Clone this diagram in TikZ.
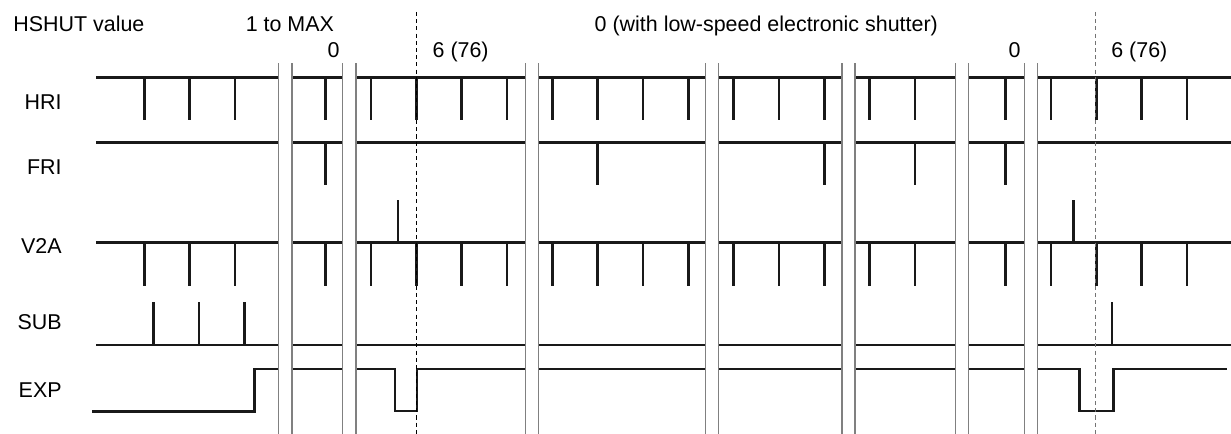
\documentclass[tikz,border=0pt]{standalone}
\usepackage{fontspec}
\setmainfont{Liberation Sans}
\begin{document}
\begin{tikzpicture}[scale=0.2]
    \tikzstyle{every node}+=[inner sep=0pt, font=\fontsize{12.2}{14}\selectfont]
    \tikzstyle{sig}=[black!90, line width=1.65pt]
    \tikzstyle{gapline}=[black!50, line width=0.75pt]
    \tikzstyle{tline}=[line width=0.6pt, dash pattern=on 2.3pt off 1.8pt]
    \useasboundingbox (0,0) rectangle (123.1,-43.4);
    % headings
    \draw (1.3,-3.17) node [anchor=base west] (hshut) {HSHUT value};
    \draw (33.43,-3.17) node [anchor=base east] (range) {1 to MAX};
    \draw (33.37,-5.73) node [anchor=base] (zeroa) {0};
    \draw (43.23,-5.73) node [anchor=base west] (sixa) {6 (76)};
    \draw (76.63,-3.17) node [anchor=base] (lowspeed) {0 (with low-speed electronic shutter)};
    \draw (101.45,-5.73) node [anchor=base] (zerob) {0};
    \draw (111.1,-5.73) node [anchor=base west] (sixb) {6 (76)};
    % signal names
    \draw (6.2,-11.0) node [anchor=base east] (hri) {HRI};
    \draw (6.2,-17.5) node [anchor=base east] (fri) {FRI};
    \draw (6.2,-25.4) node [anchor=base east] (v2a) {V2A};
    \draw (6.2,-33.0) node [anchor=base east] (sub) {SUB};
    \draw (6.2,-39.73) node [anchor=base east] (exp) {EXP};
    % HRI
    \draw [sig] (9.6,-7.75) -- (123.1,-7.75);
    \draw [sig] (14.43,-7.75) -- ++(0,-4.25) (18.97,-7.75) -- ++(0,-4.25) (23.5,-7.75) -- ++(0,-4.25)
        (32.57,-7.75) -- ++(0,-4.25) (37.1,-7.75) -- ++(0,-4.25) (41.63,-7.75) -- ++(0,-4.25)
        (46.17,-7.75) -- ++(0,-4.25) (50.7,-7.75) -- ++(0,-4.25) (55.23,-7.75) -- ++(0,-4.25)
        (59.77,-7.75) -- ++(0,-4.25) (64.3,-7.75) -- ++(0,-4.25) (68.83,-7.75) -- ++(0,-4.25)
        (73.37,-7.75) -- ++(0,-4.25) (77.9,-7.75) -- ++(0,-4.25) (82.43,-7.75) -- ++(0,-4.25)
        (86.97,-7.75) -- ++(0,-4.25) (91.5,-7.75) -- ++(0,-4.25) (100.57,-7.75) -- ++(0,-4.25)
        (105.1,-7.75) -- ++(0,-4.25) (109.63,-7.75) -- ++(0,-4.25) (114.17,-7.75) -- ++(0,-4.25)
        (118.7,-7.75) -- ++(0,-4.25);
    % FRI
    \draw [sig] (9.6,-14.27) -- (123.1,-14.27);
    \draw [sig] (32.57,-14.27) -- ++(0,-4.23) (59.77,-14.27) -- ++(0,-4.23) (82.43,-14.27) -- ++(0,-4.23)
        (91.5,-14.27) -- ++(0,-4.23) (100.57,-14.27) -- ++(0,-4.23);
    % V2A
    \draw [sig] (9.6,-24.23) -- (123.1,-24.23);
    \draw [sig] (14.43,-24.23) -- ++(0,-4.37) (18.97,-24.23) -- ++(0,-4.37) (23.5,-24.23) -- ++(0,-4.37)
        (32.57,-24.23) -- ++(0,-4.37) (37.1,-24.23) -- ++(0,-4.37) (41.63,-24.23) -- ++(0,-4.37)
        (46.17,-24.23) -- ++(0,-4.37) (50.7,-24.23) -- ++(0,-4.37) (55.23,-24.23) -- ++(0,-4.37)
        (59.77,-24.23) -- ++(0,-4.37) (64.3,-24.23) -- ++(0,-4.37) (68.83,-24.23) -- ++(0,-4.37)
        (73.37,-24.23) -- ++(0,-4.37) (77.9,-24.23) -- ++(0,-4.37) (82.43,-24.23) -- ++(0,-4.37)
        (86.97,-24.23) -- ++(0,-4.37) (91.5,-24.23) -- ++(0,-4.37) (100.57,-24.23) -- ++(0,-4.37)
        (105.1,-24.23) -- ++(0,-4.37) (109.63,-24.23) -- ++(0,-4.37) (114.17,-24.23) -- ++(0,-4.37)
        (118.7,-24.23) -- ++(0,-4.37);
    \draw [sig] (39.8,-24.23) -- ++(0,4.23) (107.33,-24.23) -- ++(0,4.23);
    % SUB
    \draw [sig] (9.6,-34.5) -- (123.1,-34.5);
    \draw [sig] (15.37,-34.5) -- ++(0,4.3) (19.9,-34.5) -- ++(0,4.3) (24.43,-34.5) -- ++(0,4.3)
        (111.2,-34.5) -- ++(0,4.3);
    % EXP
    \draw [sig] (9.2,-41.15) -- (25.45,-41.15) -- (25.45,-36.9) -- (39.5,-36.9) -- (39.5,-41.1)
        -- (41.7,-41.1) -- (41.7,-36.9) -- (107.93,-36.9) -- (107.93,-41.1) -- (111.33,-41.1)
        -- (111.33,-36.9) -- (122.7,-36.9);
    % breaks
    \fill [white] (27.87,-6.33) rectangle (29.2,-43.4);
    \draw [gapline] (27.87,-6.33) -- (27.87,-43.4) (29.2,-6.33) -- (29.2,-43.4);
    \fill [white] (34.27,-6.33) rectangle (35.6,-43.4);
    \draw [gapline] (34.27,-6.33) -- (34.27,-43.4) (35.6,-6.33) -- (35.6,-43.4);
    \fill [white] (52.57,-6.33) rectangle (53.87,-43.4);
    \draw [gapline] (52.57,-6.33) -- (52.57,-43.4) (53.87,-6.33) -- (53.87,-43.4);
    \fill [white] (70.57,-6.33) rectangle (71.87,-43.4);
    \draw [gapline] (70.57,-6.33) -- (70.57,-43.4) (71.87,-6.33) -- (71.87,-43.4);
    \fill [white] (84.2,-6.33) rectangle (85.5,-43.4);
    \draw [gapline] (84.2,-6.33) -- (84.2,-43.4) (85.5,-6.33) -- (85.5,-43.4);
    \fill [white] (95.53,-6.33) rectangle (96.83,-43.4);
    \draw [gapline] (95.53,-6.33) -- (95.53,-43.4) (96.83,-6.33) -- (96.83,-43.4);
    \fill [white] (102.43,-6.33) rectangle (103.77,-43.4);
    \draw [gapline] (102.43,-6.33) -- (102.43,-43.4) (103.77,-6.33) -- (103.77,-43.4);
    % timing lines
    \draw [tline, black] (41.63,-1.2) -- (41.63,-43.4);
    \draw [tline, black!55] (109.53,-1.2) -- (109.53,-43.4);
\end{tikzpicture}
\end{document}
